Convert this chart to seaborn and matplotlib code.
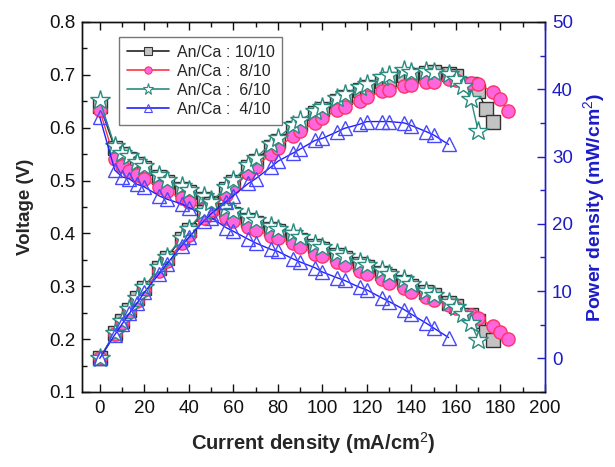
import matplotlib
matplotlib.use("Agg")
import matplotlib.pyplot as plt
from matplotlib.ticker import MultipleLocator
from matplotlib.lines import Line2D
import seaborn as sns
import pandas as pd

# ---------------- data ----------------
base_x = [0, 6.7, 10, 13.3, 16.7, 20, 26.7, 30, 36.7, 40, 46.7, 50, 56.7, 60,
          66.7, 70, 76.7, 80, 86.7, 90, 96.7, 100, 106.7, 110, 116.7, 120,
          126.7, 130, 136.7, 140, 146.7, 150]

x_1010 = base_x + [156.7, 160, 166.7, 170, 173.3, 176.7]
v_1010 = [0.642, 0.562, 0.550, 0.541, 0.532, 0.524, 0.506, 0.498, 0.485, 0.478,
          0.465, 0.458, 0.444, 0.437, 0.426, 0.420, 0.409, 0.404, 0.394, 0.388,
          0.376, 0.370, 0.359, 0.353, 0.342, 0.336, 0.325, 0.319, 0.308, 0.301,
          0.289, 0.283, 0.269, 0.262, 0.245, 0.234, 0.214, 0.199]
p_1010 = [0, 3.8, 5.5, 7.2, 8.9, 10.5, 13.5, 14.9, 17.8, 19.1, 21.7, 22.9, 25.2,
          26.2, 28.4, 29.4, 31.4, 32.3, 34.2, 34.9, 36.4, 37.0, 38.3, 38.8, 39.9,
          40.3, 41.2, 41.5, 42.1, 42.1, 42.4, 42.5, 42.2, 41.9, 40.8, 39.8, 37.1,
          35.2]

x_810 = base_x + [156.7, 160, 166.7, 170, 176.7, 180, 183.3]
v_810 = [0.633, 0.540, 0.527, 0.519, 0.511, 0.503, 0.487, 0.480, 0.467, 0.459,
         0.447, 0.441, 0.429, 0.423, 0.412, 0.406, 0.396, 0.391, 0.381, 0.375,
         0.362, 0.357, 0.346, 0.340, 0.328, 0.323, 0.313, 0.307, 0.296, 0.290,
         0.280, 0.274, 0.265, 0.259, 0.246, 0.240, 0.224, 0.214, 0.201]
p_810 = [0, 3.6, 5.3, 6.9, 8.5, 10.1, 13.0, 14.4, 17.1, 18.4, 20.9, 22.1, 24.3,
         25.4, 27.5, 28.4, 30.4, 31.3, 33.0, 33.8, 35.0, 35.7, 36.9, 37.4, 38.3,
         38.8, 39.7, 39.9, 40.5, 40.6, 41.1, 41.1, 41.5, 41.4, 41.0, 40.8, 39.6,
         38.5, 36.8]

x_610 = base_x + [156.7, 160, 163.3, 166.7, 170]
v_610 = [0.652, 0.565, 0.553, 0.546, 0.536, 0.528, 0.510, 0.502, 0.489, 0.483,
         0.470, 0.463, 0.449, 0.442, 0.431, 0.425, 0.414, 0.409, 0.400, 0.393,
         0.380, 0.374, 0.363, 0.357, 0.346, 0.340, 0.330, 0.324, 0.313, 0.304,
         0.291, 0.284, 0.270, 0.260, 0.248, 0.231, 0.199]
p_610 = [0, 3.8, 5.5, 7.3, 9.0, 10.6, 13.6, 15.1, 17.9, 19.3, 21.9, 23.2, 25.5,
         26.5, 28.7, 29.8, 31.8, 32.7, 34.7, 35.4, 36.7, 37.4, 38.7, 39.3, 40.4,
         40.8, 41.8, 42.1, 42.8, 42.6, 42.7, 42.6, 42.3, 41.6, 40.5, 38.5, 33.8]

x_410 = base_x + [156.7]
v_410 = [0.620, 0.520, 0.507, 0.503, 0.493, 0.488, 0.471, 0.465, 0.456, 0.449,
         0.436, 0.430, 0.411, 0.404, 0.389, 0.382, 0.370, 0.366, 0.352, 0.346,
         0.335, 0.327, 0.316, 0.311, 0.298, 0.293, 0.278, 0.271, 0.256, 0.247,
         0.230, 0.221, 0.203]
p_410 = [0, 3.5, 5.1, 6.7, 8.2, 9.8, 12.6, 14.0, 16.7, 18.0, 20.4, 21.5, 23.3,
         24.2, 26.0, 26.7, 28.4, 29.3, 30.5, 31.1, 32.4, 32.7, 33.7, 34.2, 34.8,
         35.2, 35.2, 35.2, 35.0, 34.6, 33.7, 33.2, 31.8]

labels = ["An/Ca : 10/10", "An/Ca :  8/10", "An/Ca :  6/10", "An/Ca :  4/10"]
x_ticks = [0, 20, 40, 60, 80, 100, 120, 140, 160, 180, 200]

# ---------------- style ----------------
sns.set_style("ticks")
plt.rcParams["font.family"] = ["Liberation Sans", "DejaVu Sans"]
plt.rcParams["mathtext.fontset"] = "custom"
plt.rcParams["mathtext.rm"] = "Liberation Sans"
plt.rcParams["mathtext.bf"] = "Liberation Sans:bold"

BLUE = "#1c1cc8"
series = [
    dict(x=x_1010, v=v_1010, p=p_1010, line="#222222", marker="s", ms=9.5,
         mfc="#c3c3c3", mec="#333333", mew=1.0),
    dict(x=x_810, v=v_810, p=p_810, line="#ff3344", marker="o", ms=9.5,
         mfc="#ff66dd", mec="#ff3366", mew=1.0),
    dict(x=x_610, v=v_610, p=p_610, line="#2a8c80", marker="*", ms=15,
         mfc="white", mec="#2a8c80", mew=1.0),
    dict(x=x_410, v=v_410, p=p_410, line="#2020ff", marker="^", ms=10,
         mfc="none", mec="#4848ff", mew=1.0),
]

fig = plt.figure(figsize=(6.15, 4.67), dpi=100)
ax = fig.add_axes([82 / 615, 1 - 392 / 467, 463 / 615, 370 / 467])
ax2 = ax.twinx()

for s in series:
    df_v = pd.DataFrame({"i": s["x"], "val": s["v"]})
    sns.lineplot(data=df_v, x="i", y="val", ax=ax, sort=False, estimator=None,
                 color=s["line"], lw=1.0, marker=s["marker"], markersize=s["ms"],
                 markerfacecolor=s["mfc"], markeredgecolor=s["mec"],
                 markeredgewidth=s["mew"], legend=False)
for s in series:
    df_p = pd.DataFrame({"i": s["x"], "val": s["p"]})
    sns.lineplot(data=df_p, x="i", y="val", ax=ax2, sort=False, estimator=None,
                 color=s["line"], lw=1.0, marker=s["marker"], markersize=s["ms"],
                 markerfacecolor=s["mfc"], markeredgecolor=s["mec"],
                 markeredgewidth=s["mew"], legend=False)

ax.set_xlim(-8, 200)
ax.set_ylim(0.1, 0.8)
ax2.set_ylim(-5, 50)

ax.set_xticks(x_ticks)
ax.xaxis.set_minor_locator(MultipleLocator(10))
ax.yaxis.set_major_locator(MultipleLocator(0.1))
ax.yaxis.set_minor_locator(MultipleLocator(0.05))
ax2.yaxis.set_major_locator(MultipleLocator(10))
ax2.yaxis.set_minor_locator(MultipleLocator(5))
ax2.set_yticks([0, 10, 20, 30, 40, 50])

ax.tick_params(axis="both", which="both", direction="in", top=True,
               labelsize=13.5, colors="#111111")
ax.tick_params(axis="both", which="major", length=6, width=1)
ax.tick_params(axis="both", which="minor", length=3.5, width=1)
ax.tick_params(axis="x", which="major", pad=6)
ax.tick_params(axis="y", which="major", pad=5)
ax.tick_params(axis="y", which="both", right=False)
ax2.tick_params(axis="y", which="both", direction="in", colors=BLUE,
                labelsize=13.5)
ax2.tick_params(axis="y", which="major", length=6, width=1, pad=5)
ax2.tick_params(axis="y", which="minor", length=3.5, width=1)

for sp in ["left", "top", "bottom"]:
    ax.spines[sp].set_color("#111111")
    ax2.spines[sp].set_color("#111111")
ax2.spines["right"].set_color(BLUE)
ax.spines["right"].set_color(BLUE)
for a in (ax, ax2):
    for sp in a.spines.values():
        sp.set_linewidth(1.0)

ax.set_xlabel("Current density (mA/cm$^2$)", fontsize=14.5, fontweight="bold",
              labelpad=9)
ax.set_ylabel("Voltage (V)", fontsize=13.5, fontweight="bold", labelpad=11)
ax2.set_ylabel("Power density (mW/cm$^2$)", fontsize=14, fontweight="bold",
               color=BLUE, labelpad=6)

handles = [Line2D([0], [0], color=s["line"], lw=1.2, marker=s["marker"],
                  markersize=s["ms"] * 0.55, markerfacecolor=s["mfc"],
                  markeredgecolor=s["mec"], markeredgewidth=0.8)
           for s in series]
leg = ax2.legend(handles, labels, loc="upper left",
                 bbox_to_anchor=(0.08, 0.96), borderaxespad=0, fontsize=11.5,
                 frameon=True, fancybox=False, edgecolor="#555555",
                 handlelength=2.6, handletextpad=0.5, labelspacing=0.25,
                 borderpad=0.5)
leg.get_frame().set_linewidth(1.0)

fig.savefig("out.png", dpi=100)
